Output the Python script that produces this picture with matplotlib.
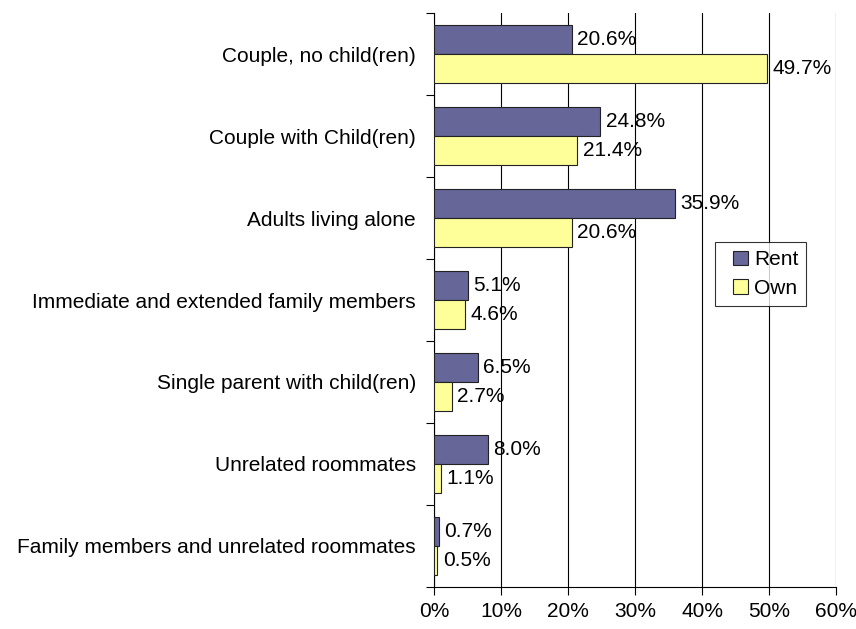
import numpy as np
import matplotlib.pyplot as plt
from matplotlib.patches import Rectangle
from matplotlib.container import BarContainer
from matplotlib.legend_handler import HandlerPatch
from matplotlib.ticker import FuncFormatter

plt.rcParams['font.family'] = ['Liberation Sans', 'DejaVu Sans']

categories = ['Couple, no child(ren)', 'Couple with Child(ren)', 'Adults living alone',
              'Immediate and extended family members', 'Single parent with child(ren)',
              'Unrelated roommates', 'Family members and unrelated roommates']
rent = [20.6, 24.8, 35.9, 5.1, 6.5, 8.0, 0.7]
own = [49.7, 21.4, 20.6, 4.6, 2.7, 1.1, 0.5]

fig = plt.figure(figsize=(8.56, 6.29), dpi=100)
ax = fig.add_axes([0.507, 0.067, 0.47, 0.912])

y = np.arange(len(categories))
h = 0.355
b1 = ax.barh(y - h / 2, rent, height=h, color='#666699', edgecolor='#222222', linewidth=0.8, label='Rent', zorder=3)
b2 = ax.barh(y + h / 2, own, height=h, color='#FFFF99', edgecolor='#222222', linewidth=0.8, label='Own', zorder=3)

for bars, vals in ((b1, rent), (b2, own)):
    for bar, v in zip(bars, vals):
        ax.text(v + 0.8, bar.get_y() + bar.get_height() / 2, f'{v:.1f}%',
                va='center', ha='left', fontsize=15, zorder=4)

ax.set_ylim(len(categories) - 0.5, -0.5)
ax.set_xlim(0, 60)
ax.set_xticks(range(0, 61, 10))
ax.xaxis.set_major_formatter(FuncFormatter(lambda v, p: f'{v:.0f}%'))
ax.set_yticks(np.arange(-0.5, len(categories), 1))
ax.set_yticklabels([])
ax.set_yticks(y, minor=True)
ax.set_yticklabels(categories, minor=True)
ax.tick_params(axis='y', which='minor', length=0, pad=13, labelsize=15)
ax.tick_params(axis='y', which='major', length=6, direction='out')
ax.tick_params(axis='x', length=6, direction='out', labelsize=15, pad=5)
ax.grid(axis='x', color='black', linewidth=0.8, zorder=0)
for s in ('top', 'right'):
    ax.spines[s].set_visible(False)


# square swatch pushed to the right side of the handle box
def square(legend, orig_handle, xdescent, ydescent, width, height, fontsize):
    s = 10.5
    return Rectangle((-xdescent + width - s, -ydescent + (height - s) / 2), s, s)


def first_child(legend_handle, orig_handle):
    legend_handle.update_from(orig_handle.patches[0])


leg = ax.legend(loc='upper left', bbox_to_anchor=(0.699, 0.601), borderaxespad=0,
                fontsize=15, frameon=True, fancybox=False, edgecolor='black',
                handlelength=1.15, handleheight=0.7, handletextpad=0.3,
                borderpad=0.4, labelspacing=0.45,
                handler_map={BarContainer: HandlerPatch(patch_func=square, update_func=first_child)})
leg.get_frame().set_linewidth(0.8)

fig.savefig('out.png', dpi=100)
